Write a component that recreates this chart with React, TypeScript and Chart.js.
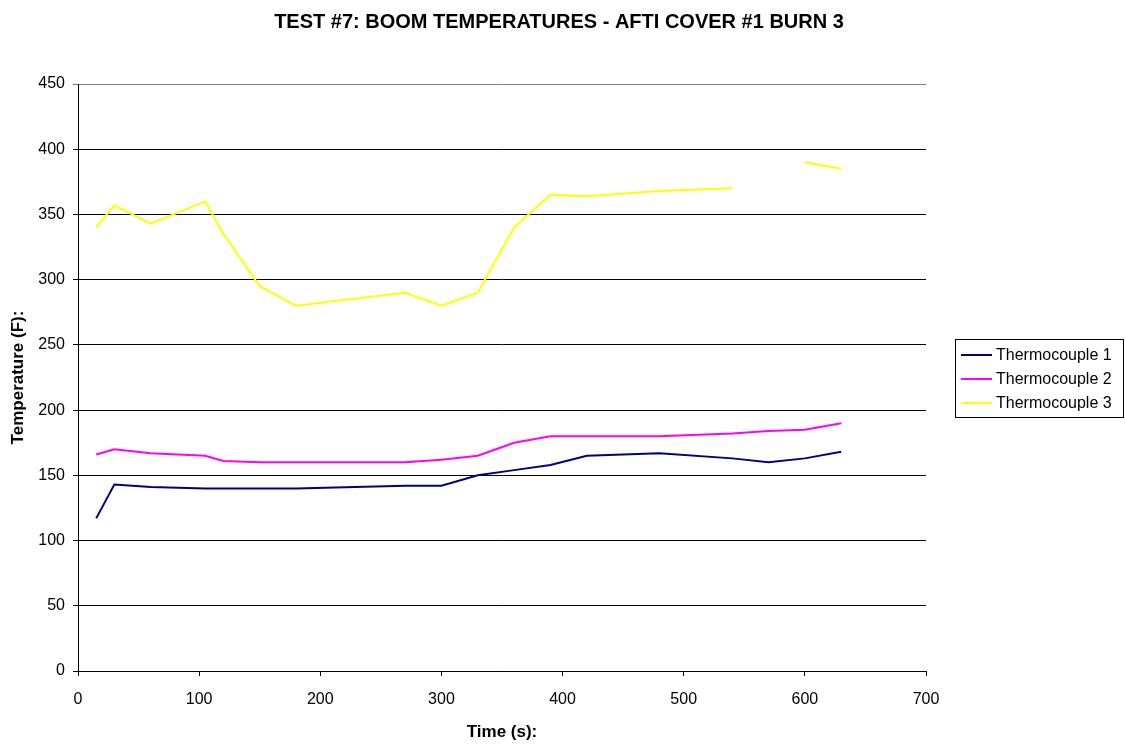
import React, { useEffect, useRef } from "react";
import { Chart, registerables } from "chart.js";

Chart.register(...registerables);

const TITLE = "TEST #7: BOOM TEMPERATURES - AFTI COVER #1 BURN 3";
const X_TITLE = "Time (s):";
const Y_TITLE = "Temperature (F):";

const times = [15, 30, 60, 105, 120, 150, 180, 270, 300, 330, 360, 390, 420, 480, 540, 570, 600, 630];
const thermo1 = [117, 143, 141, 140, 140, 140, 140, 142, 142, 150, 154, 158, 165, 167, 163, 160, 163, 168];
const thermo2 = [166, 170, 167, 165, 161, 160, 160, 160, 162, 165, 175, 180, 180, 180, 182, 184, 185, 190];
const thermo3: (number | null)[] = [340, 357, 343, 360, 335, 295, 280, 290, 280, 290, 340, 365, 364, 368, 370, null, 390, 385];

const seriesNames = ["Thermocouple 1", "Thermocouple 2", "Thermocouple 3"];
const seriesColors = ["#000080", "#FF00FF", "#FFFF00"];
const seriesValues = [thermo1, thermo2, thermo3];

const FONT = 'Arial, "Liberation Sans", sans-serif';

const titlePlugin = {
  id: "customTitle",
  afterDraw(chart: any) {
    const ctx = chart.ctx;
    ctx.save();
    ctx.font = `bold 20px ${FONT}`;
    ctx.fillStyle = "#000";
    ctx.textAlign = "center";
    ctx.textBaseline = "middle";
    ctx.fillText(TITLE, 559, 22);
    ctx.restore();
  },
};

const legendPlugin = {
  id: "customLegend",
  afterDraw(chart: any) {
    const ctx = chart.ctx;
    const left = 955.5, top = 339.5, w = 168, h = 78;
    ctx.save();
    ctx.strokeStyle = "#000";
    ctx.lineWidth = 1;
    ctx.strokeRect(left, top, w, h);
    ctx.font = `16px ${FONT}`;
    ctx.textAlign = "left";
    ctx.textBaseline = "middle";
    chart.data.datasets.forEach((ds: any, i: number) => {
      const y = 355 + i * 24;
      ctx.strokeStyle = ds.borderColor;
      ctx.lineWidth = 2;
      ctx.beginPath();
      ctx.moveTo(961, y);
      ctx.lineTo(992, y);
      ctx.stroke();
      ctx.fillStyle = "#000";
      ctx.fillText(ds.label, 996, y + 1);
    });
    ctx.restore();
  },
};

export default function App() {
  const ref = useRef<HTMLCanvasElement>(null);
  useEffect(() => {
    if (!ref.current) return;
    const chart = new Chart(ref.current, {
      type: "line",
      data: {
        datasets: seriesNames.map((name, i) => ({
          label: name,
          data: times.map((t, j) => ({ x: t, y: seriesValues[i][j] })),
          borderColor: seriesColors[i],
          backgroundColor: seriesColors[i],
          borderWidth: 2,
          pointRadius: 0,
          tension: 0,
          spanGaps: false,
          fill: false,
        })),
      },
      options: {
        responsive: false,
        animation: false,
        layout: { padding: { left: 0, top: 84, right: 199, bottom: 0 } },
        plugins: {
          legend: { display: false },
          title: { display: false },
          tooltip: { enabled: false },
        },
        scales: {
          x: {
            type: "linear",
            min: 0,
            max: 700,
            afterFit: (s: any) => { s.height = 74; },
            border: { display: true, color: "#000", width: 1 },
            grid: { drawOnChartArea: false, drawTicks: true, tickLength: 5, color: "#000" },
            ticks: { stepSize: 100, padding: 14, color: "#000", font: { size: 16, family: FONT }, maxRotation: 0 },
            title: { display: true, text: X_TITLE, color: "#000", font: { size: 17, weight: "bold", family: FONT }, padding: { top: 0, bottom: 2 } },
          },
          y: {
            min: 0,
            max: 450,
            afterFit: (s: any) => { s.width = 78; },
            border: { display: true, color: "#000", width: 1 },
            grid: {
              drawTicks: true,
              tickLength: 5,
              color: (c: any) => (c.tick && c.tick.value === 450 ? "#808080" : "#000"),
            },
            ticks: { stepSize: 50, padding: 8, color: "#000", font: { size: 16, family: FONT } },
            title: { display: true, text: Y_TITLE, color: "#000", font: { size: 17, weight: "bold", family: FONT }, padding: { top: 8, bottom: 0 } },
          },
        },
      },
      plugins: [titlePlugin, legendPlugin],
    });
    return () => chart.destroy();
  }, []);
  return (
    <div style={{ position: "absolute", left: 0, top: 0, width: 1125, height: 745, background: "#fff" }}>
      <canvas ref={ref} width={1125} height={745} />
    </div>
  );
}
